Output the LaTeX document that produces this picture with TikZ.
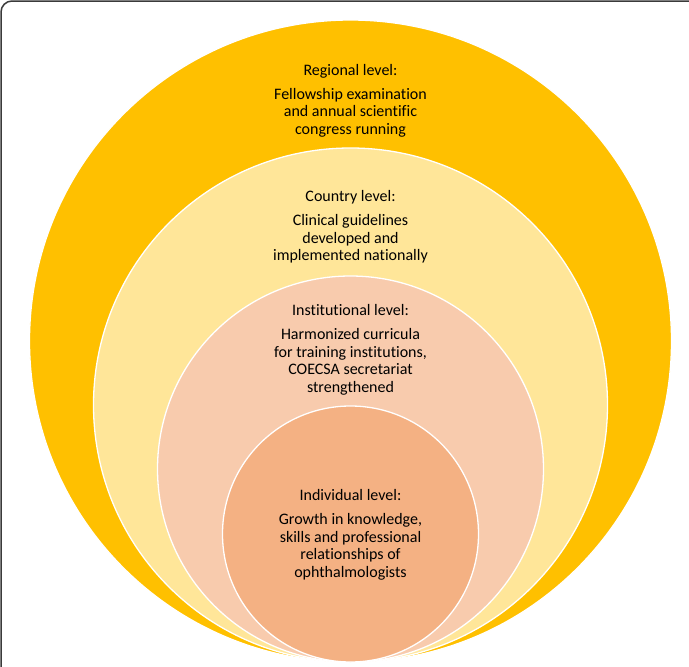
\documentclass[tikz,border=0pt]{standalone}
\usepackage{fontspec}
\setmainfont{Carlito}[Ligatures=NoCommon]
\definecolor{goldc}{HTML}{FFC000}
\definecolor{lightyel}{HTML}{FFE699}
\definecolor{peachl}{HTML}{F8CBAD}
\definecolor{peachd}{HTML}{F4B183}
\definecolor{framec}{HTML}{3A3A3A}
\tikzset{
  ring/.style={circle, draw=white, line width=1.3pt, inner sep=0pt},
  lvltext/.style={align=center, inner sep=0pt, text=black,
    font=\fontsize{16}{17.5}\selectfont, anchor=base},
}
\begin{document}
\begin{tikzpicture}[x=1pt,y=-1pt]
\useasboundingbox (0,0) rectangle (689,667);
\begin{scope}
  \clip (0,0) rectangle (689,667);
  \draw[framec, line width=1.5pt, rounded corners=11pt] (1,1) rectangle (730,720);
\end{scope}
\node[ring, fill=goldc,    minimum size=642pt] (regional)      at (350.5,341) {};
\node[ring, fill=lightyel, minimum size=514pt] (country)       at (350.5,405) {};
\node[ring, fill=peachl,   minimum size=386pt] (institutional) at (350.5,469) {};
\node[ring, fill=peachd,   minimum size=256pt] (individual)    at (350.5,534) {};
\node[lvltext] (tregional) at (350.5,134)
  {Regional level:\\[6.5pt]Fellowship examination\\and annual scientific\\congress running};
\node[lvltext] (tcountry) at (350.5,260.7)
  {Country level:\\[6.5pt]Clinical guidelines\\developed and\\implemented nationally};
\node[lvltext] (tinstitutional) at (350.5,392.3)
  {Institutional level:\\[6.5pt]Harmonized curricula\\for training institutions,\\COECSA secretariat\\strengthened};
\node[lvltext] (tindividual) at (350.5,577.3)
  {Individual level:\\[6.5pt]Growth in knowledge,\\skills and professional\\relationships of\\ophthalmologists};
\end{tikzpicture}
\end{document}
